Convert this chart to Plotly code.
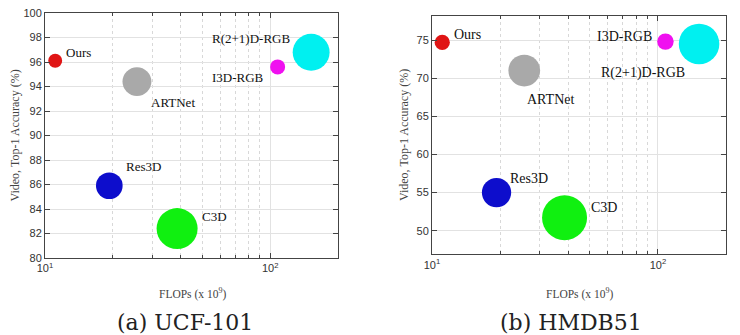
import math
import plotly.graph_objects as go

models = ["Ours", "ARTNet", "I3D-RGB", "R(2+1)D-RGB", "Res3D", "C3D"]
flops_g = [11.1, 25.6, 107.9, 152.0, 19.3, 38.6]
params_m = [9.0, 39.0, 10.5, 63.6, 33.2, 78.4]
acc_ucf101 = [96.1, 94.4, 95.6, 96.8, 85.9, 82.4]
acc_hmdb51 = [74.7, 71.0, 74.8, 74.5, 55.0, 51.7]
colors = ["#e01515", "#a9a9a9", "#f010f0", "#00f0f0", "#0d0dcc", "#10f010"]

x_tickvals = [10, 100]
x_ticktext = ["10<sup>1</sup>", "10<sup>2</sup>"]
x_minor = [20, 30, 40, 50, 60, 70, 80, 90, 200]
y_ticks_ucf = [80, 82, 84, 86, 88, 90, 92, 94, 96, 98, 100]
y_ticks_hmdb = [50, 55, 60, 65, 70, 75]
captions = ["(a) UCF-101", "(b) HMDB51"]
x_title = "FLOPs (x 10<sup>9</sup>)"
y_title = "Video, Top-1 Accuracy (%)"

# label offsets (px) and anchors per panel
lab_ucf = {
    "Ours": (9, 8, "left"), "ARTNet": (12, -21, "left"), "I3D-RGB": (-12, -11, "right"),
    "R(2+1)D-RGB": (-19, 14, "right"), "Res3D": (15, 19, "left"), "C3D": (23, 12, "left"),
}
lab_hmdb = {
    "Ours": (10, 8, "left"), "ARTNet": (1, -29, "left"), "I3D-RGB": (-11, 5, "right"),
    "R(2+1)D-RGB": (-12, -29, "right"), "Res3D": (11, 14, "left"), "C3D": (24, 10, "left"),
}

W, H = 740, 335
fig = go.Figure()
panels = [
    ("x", "y", acc_ucf101, 2 * 78.4 / 41**2, lab_ucf, 13),
    ("x2", "y2", acc_hmdb51, 2 * 78.4 / 45**2, lab_hmdb, 14),
]
ann = []
for xa, ya, acc, sref, labs, fs in panels:
    fig.add_trace(go.Scatter(
        x=flops_g, y=acc, mode="markers", xaxis=xa, yaxis=ya,
        marker=dict(size=params_m, sizemode="area", sizeref=sref, color=colors,
                    opacity=1, line=dict(width=0)),
        showlegend=False, hoverinfo="text", text=models,
    ))
    for m, fx, ay in zip(models, flops_g, acc):
        dx, dy, anc = labs[m]
        ann.append(dict(x=math.log10(fx), y=ay, xref=xa, yref=ya, text=m, showarrow=False,
                        xanchor=anc, yanchor="middle", xshift=dx, yshift=dy,
                        font=dict(family="Liberation Serif", size=fs, color="#111")))

capfont = dict(family="DejaVu Serif", size=22, color="#222")
ann.append(dict(x=185 / W, y=1 - 322 / H, xref="paper", yref="paper", text=captions[0],
                showarrow=False, xanchor="center", yanchor="middle", font=capfont))
ann.append(dict(x=571 / W, y=1 - 322 / H, xref="paper", yref="paper", text=captions[1],
                showarrow=False, xanchor="center", yanchor="middle", font=capfont))

titlefont = dict(family="Liberation Serif", size=11.5, color="#444")
yt_font = dict(family="Liberation Serif", size=12, color="#444")
for cx, cy in [(192, 293), (579, 293)]:
    ann.append(dict(x=cx / W, y=1 - cy / H, xref="paper", yref="paper", text=x_title,
                    showarrow=False, xanchor="center", yanchor="middle", font=titlefont))
for cx, cy in [(14, 135.5), (404, 135)]:
    ann.append(dict(x=cx / W, y=1 - cy / H, xref="paper", yref="paper", text=y_title,
                    showarrow=False, xanchor="center", yanchor="middle", textangle=-90,
                    font=yt_font))

grid = "#e2e2e2"
axcol = "#444"
tickfont = dict(family="Liberation Sans", size=11, color="#333")


def xaxis(domain, anchor):
    return dict(type="log", domain=domain, anchor=anchor, range=[1, 2.30103],
                tickmode="array", tickvals=x_tickvals, ticktext=x_ticktext,
                ticks="inside", ticklen=5, tickcolor=axcol, mirror="allticks",
                showline=True, linecolor=axcol, linewidth=1, automargin=False,
                showgrid=True, gridcolor=grid, gridwidth=1, zeroline=False,
                minor=dict(tickmode="array", tickvals=x_minor, ticks="inside", ticklen=3,
                           tickcolor=axcol, showgrid=True, gridcolor="#d8d8d8", griddash="dot"),
                tickfont=tickfont)


def yaxis(domain, anchor, rng, ticks):
    return dict(domain=domain, anchor=anchor, range=rng, tickmode="array", tickvals=ticks,
                ticks="inside", ticklen=5, tickcolor=axcol, mirror="allticks",
                showline=True, linecolor=axcol, linewidth=1, automargin=False,
                showgrid=True, gridcolor=grid, zeroline=False, tickfont=tickfont)


fig.update_layout(
    width=W, height=H, margin=dict(l=0, r=0, t=0, b=0),
    paper_bgcolor="white", plot_bgcolor="white",
    xaxis=xaxis([45 / W, 338 / W], "y"),
    yaxis=yaxis([1 - 258 / H, 1 - 13 / H], "x", [80, 100], y_ticks_ucf),
    xaxis2=xaxis([432 / W, 726 / W], "y2"),
    yaxis2=yaxis([1 - 254.3 / H, 1 - 15.7 / H], "x2", [46.9, 78.2], y_ticks_hmdb),
    annotations=ann,
)
fig.write_html("out.html", config={"displayModeBar": False},
               post_script="document.body.style.margin='0';document.body.style.overflow='hidden';")
